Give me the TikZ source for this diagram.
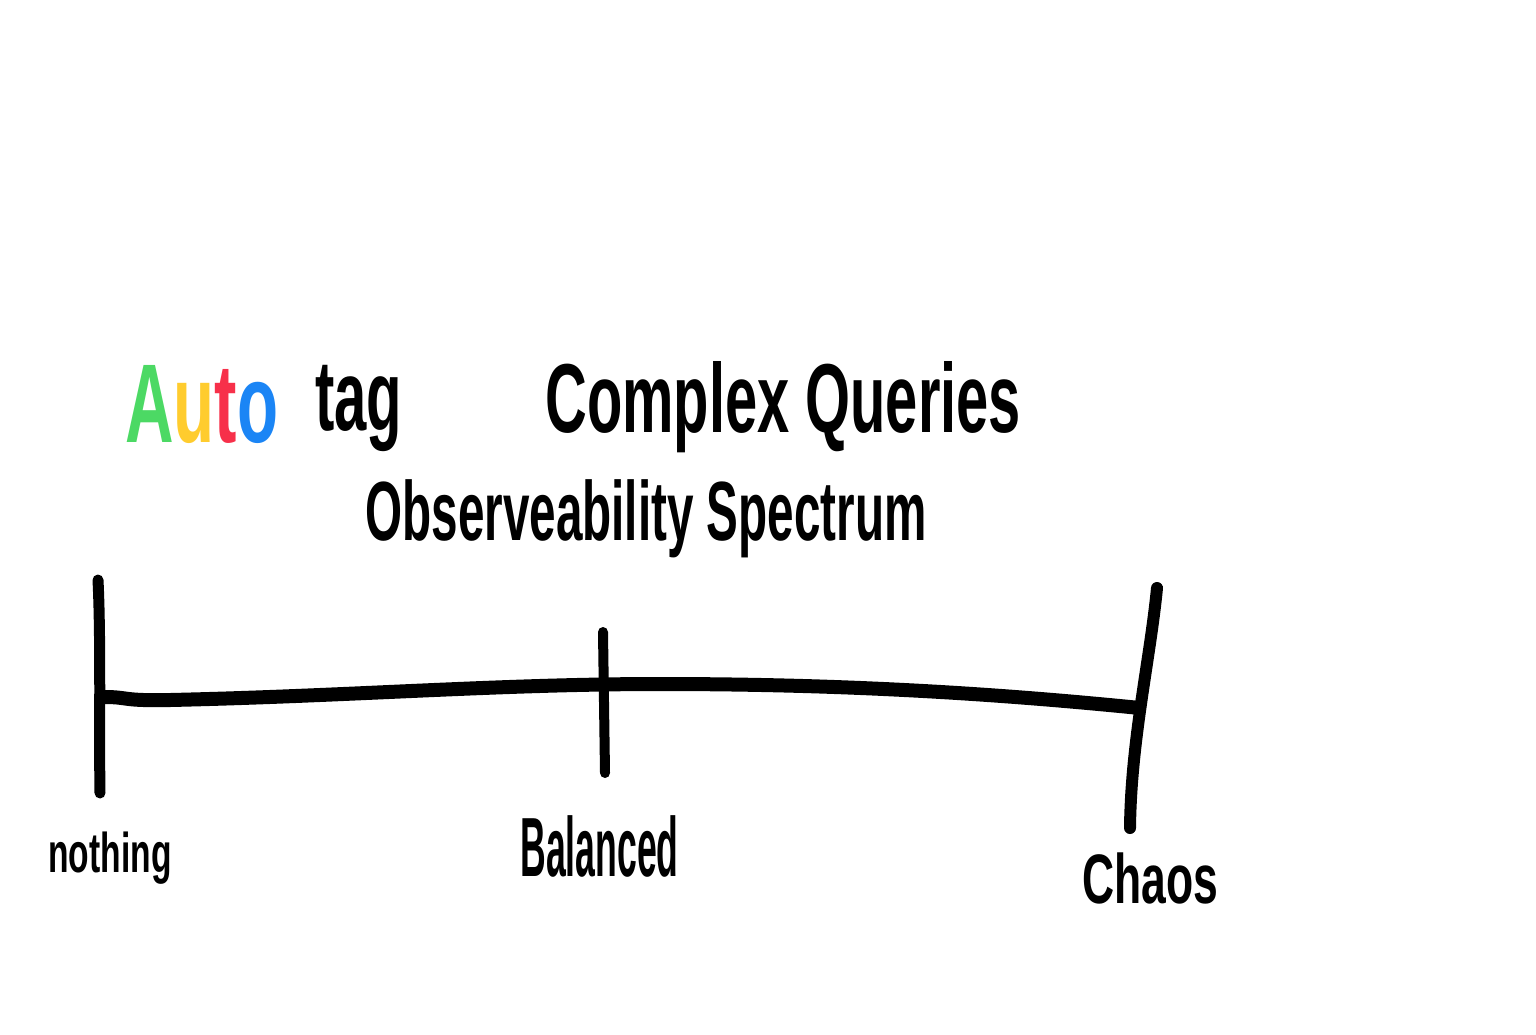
\documentclass[tikz,border=0pt]{standalone}
\usepackage{fontspec}
\setmainfont{Liberation Sans}
\usepackage{xcolor}
\usepackage{graphicx}
\definecolor{ink}{HTML}{000000}
\definecolor{leaf}{HTML}{4CD964}
\definecolor{sun}{HTML}{FFCC2E}
\definecolor{cherry}{HTML}{F7304A}
\definecolor{sky}{HTML}{1B85F5}
\newcommand{\narrow}[2]{\scalebox{#1}[1]{#2}}

\begin{document}
\begin{tikzpicture}[x=0.5pt,y=-0.5pt,
  word/.style={inner sep=0pt,anchor=base west,text=ink},
  stroke/.style={draw=ink,line cap=round,line join=round,line width=5pt}]
  \useasboundingbox (0,0) rectangle (1536,1034);
  \fill[white] (0,0) rectangle (1536,1034);
  % titles
  \node[word,font=\bfseries\fontsize{56pt}{56pt}\selectfont] (auto) at (125,442)
     {\narrow{0.6}{\textcolor{leaf}{A}\textcolor{sun}{u}\textcolor{cherry}{t}\textcolor{sky}{o}}};
  \node[word,font=\bfseries\fontsize{50pt}{50pt}\selectfont] (tag) at (315,430) {\narrow{0.58}{tag}};
  \node[word,font=\bfseries\fontsize{49pt}{49pt}\selectfont] (queries) at (545,432) {\narrow{0.59}{Complex Queries}};
  \node[word,font=\bfseries\fontsize{42pt}{42pt}\selectfont] (spectrum) at (365,540) {\narrow{0.567}{Observeability Spectrum}};
  % ticks
  \coordinate (lefttop) at (98,580);  \coordinate (leftbot) at (100,793);
  \coordinate (midtop) at (603,632);  \coordinate (midbot) at (605,773);
  \coordinate (righttop) at (1157,588); \coordinate (rightbot) at (1130,828);
  \draw[stroke,line width=5.5pt] (lefttop) .. controls (101,640) and (99,740) .. (leftbot);
  \draw[stroke] (midtop) -- (midbot);
  \draw[stroke,line width=6pt] (righttop) .. controls (1150,660) and (1131,740) .. (rightbot);
  % axis
  \coordinate (axisleft) at (104,697);
  \coordinate (axisright) at (1140,708);
  \draw[ink,line width=7pt] (axisleft) .. controls (130,697) and (120,701) .. (170,700)
     .. controls (350,696) and (500,684) .. (660,684)
     .. controls (850,684) and (1000,694) .. (axisright);
  % labels
  \node[word,font=\bfseries\fontsize{28pt}{28pt}\selectfont] (nothing) at (48,872) {\narrow{0.6}{nothing}};
  \node[word,font=\bfseries\fontsize{42pt}{42pt}\selectfont] (balanced) at (520,876) {\narrow{0.424}{Balanced}};
  \node[word,font=\bfseries\fontsize{35pt}{35pt}\selectfont] (chaos) at (1082,903) {\narrow{0.635}{Chaos}};
\end{tikzpicture}
\end{document}
